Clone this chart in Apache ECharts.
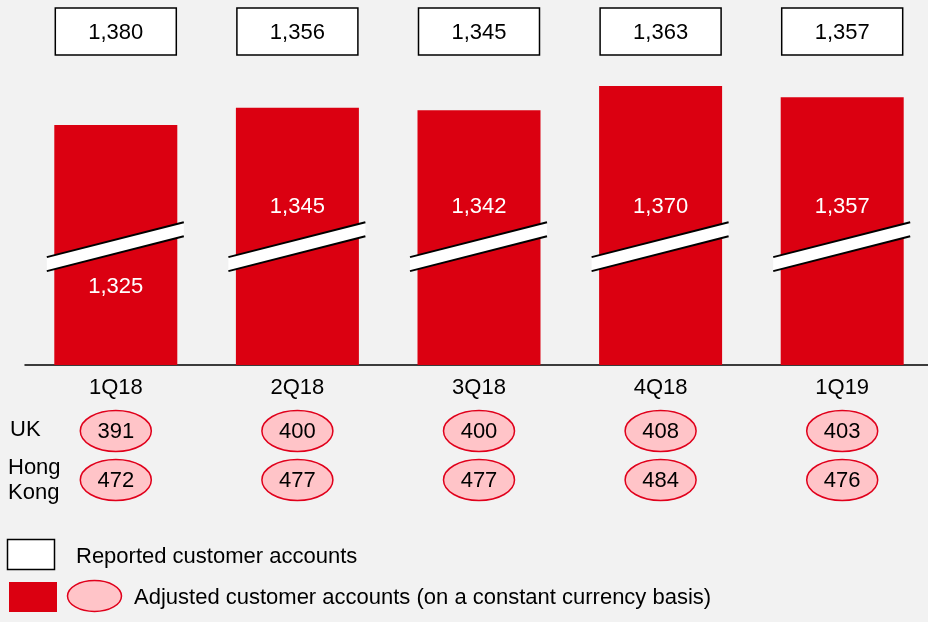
<!DOCTYPE html>
<html><head><meta charset="utf-8">
<script src="https://cdn.jsdelivr.net/npm/echarts@6/dist/echarts.min.js"></script>
<style>html,body{margin:0;padding:0;background:#f2f2f2}#c{width:928px;height:622px}</style>
</head><body><div id="c"></div>
<script>
const categories = ['1Q18', '2Q18', '3Q18', '4Q18', '1Q19'];
const adjusted = [1325, 1345, 1342, 1370, 1357];
const reported = [1380, 1356, 1345, 1363, 1357];
const ukValues = [391, 400, 400, 408, 403];
const hkValues = [472, 477, 477, 484, 476];
const labelSide = ['below', 'above', 'above', 'above', 'above'];

const RED = '#db0011', PINK = '#ffc4c8', STROKE_RED = '#e0001b';
const FONT_FAMILY = '"Liberation Sans", Arial, sans-serif';
const FS = 22;
const font = FS + 'px ' + FONT_FAMILY;
const fmt = v => v.toLocaleString('en-US');
const Y_MIN = 1048, Y_MAX = 1400;

const chart = echarts.init(document.getElementById('c'), null, {renderer: 'canvas'});

function boxItem(params, api) {
  const x = api.coord([api.value(0), Y_MIN])[0];
  const w = 121, h = 47;
  return {type: 'group', children: [
    {type: 'rect', shape: {x: x - w / 2, y: 8, width: w, height: h},
     style: {fill: '#fff', stroke: '#000', lineWidth: 1.5}},
    {type: 'text', style: {text: fmt(api.value(1)), x: x, y: 33, align: 'center', verticalAlign: 'middle', font: font, fill: '#000'}}
  ]};
}

function breakItem(params, api) {
  const i = api.value(0);
  const x = api.coord([i, Y_MIN])[0];
  const cy = 246.5, slope = 0.255, half = 7;
  const x0 = x - 69, x1 = x + 68;
  const yt = xx => cy - half - slope * (xx - x);
  const yb = xx => cy + half - slope * (xx - x);
  const ly = labelSide[i] === 'below' ? 287 : 207;
  return {type: 'group', children: [
    {type: 'polygon', shape: {points: [[x0, yt(x0)], [x1, yt(x1)], [x1, yb(x1)], [x0, yb(x0)]]},
     style: {fill: '#fff'}},
    {type: 'line', shape: {x1: x0, y1: yt(x0), x2: x1, y2: yt(x1)}, style: {stroke: '#000', lineWidth: 2}},
    {type: 'line', shape: {x1: x0, y1: yb(x0), x2: x1, y2: yb(x1)}, style: {stroke: '#000', lineWidth: 2}},
    {type: 'text', style: {text: fmt(api.value(1)), x: x, y: ly, align: 'center', verticalAlign: 'middle', font: font, fill: '#fff'}}
  ]};
}

function ellipseItemAt(cyPix) {
  return function (params, api) {
    const x = api.coord([api.value(0), Y_MIN])[0];
    return {type: 'group', children: [
      {type: 'ellipse', shape: {cx: x, cy: cyPix, rx: 35.5, ry: 20.5},
       style: {fill: PINK, stroke: STROKE_RED, lineWidth: 1.5}},
      {type: 'text', style: {text: String(api.value(1)), x: x, y: cyPix + 1, align: 'center', verticalAlign: 'middle', font: font, fill: '#000'}}
    ]};
  };
}

const idx = arr => arr.map((v, i) => [i, v]);

chart.setOption({
  backgroundColor: '#f2f2f2',
  animation: false,
  grid: {left: 25, top: 60, width: 908, height: 305, outerBoundsMode: 'none', containLabel: false},
  xAxis: {
    type: 'category', data: categories,
    axisLine: {lineStyle: {color: '#000', width: 1.5}},
    axisTick: {show: false},
    axisLabel: {color: '#000', fontSize: FS, fontFamily: FONT_FAMILY, margin: 12}
  },
  yAxis: {
    type: 'value', min: Y_MIN, max: Y_MAX, show: false, splitLine: {show: false}
  },
  series: [
    {type: 'bar', data: adjusted, barWidth: 123, itemStyle: {color: RED}, silent: true},
    {type: 'custom', data: idx(adjusted), renderItem: breakItem, silent: true, z: 5},
    {type: 'custom', data: idx(reported), renderItem: boxItem, silent: true, clip: false},
    {type: 'custom', data: idx(ukValues), renderItem: ellipseItemAt(431), silent: true, clip: false},
    {type: 'custom', data: idx(hkValues), renderItem: ellipseItemAt(480), silent: true, clip: false}
  ],
  graphic: [
    {type: 'text', x: 10, y: 430, style: {text: 'UK', font: font, fill: '#000', verticalAlign: 'middle'}},
    {type: 'text', x: 8, y: 480, style: {text: 'Hong\nKong', font: font, fill: '#000', lineHeight: 25, verticalAlign: 'middle'}},
    {type: 'rect', shape: {x: 7.5, y: 539.5, width: 47, height: 30}, style: {fill: '#fff', stroke: '#000', lineWidth: 1.5}},
    {type: 'text', x: 76, y: 557, style: {text: 'Reported customer accounts', font: font, fill: '#000', verticalAlign: 'middle'}},
    {type: 'rect', shape: {x: 9, y: 582, width: 48, height: 30}, style: {fill: RED}},
    {type: 'ellipse', shape: {cx: 94.5, cy: 596, rx: 27, ry: 15.5}, style: {fill: PINK, stroke: STROKE_RED, lineWidth: 1.5}},
    {type: 'text', x: 134, y: 598, style: {text: 'Adjusted customer accounts (on a constant currency basis)', font: font, fill: '#000', verticalAlign: 'middle'}}
  ]
});
</script></body></html>
